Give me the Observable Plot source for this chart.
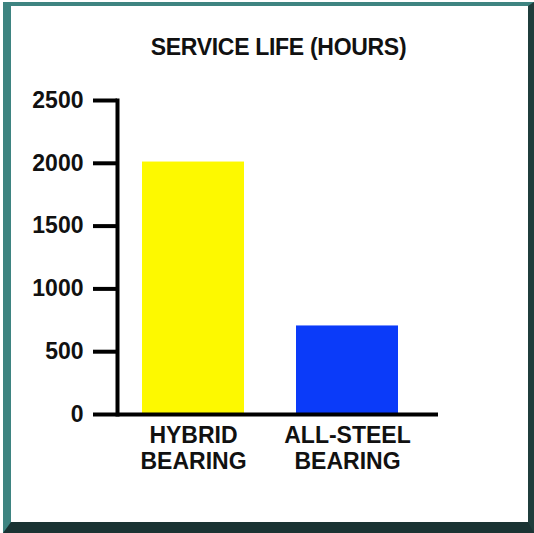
<!DOCTYPE html>
<html>
<head>
<meta charset="utf-8">
<script src="https://cdn.jsdelivr.net/npm/d3@7"></script>
<script src="https://cdn.jsdelivr.net/npm/@observablehq/plot@0.6"></script>
<style>
  html, body { margin: 0; padding: 0; background: #ffffff; }
  #page { position: relative; width: 534px; height: 533px; overflow: hidden; }
  #frame {
    position: absolute; left: 3px; top: 2px;
    width: 517px; height: 516px;
    background: #ffffff;
    border-left: 8px solid #3e8481;
    border-top: 4px solid #3e8481;
    border-right: 6px solid #1f3d3c;
    border-bottom: 11px solid #1a3333;
  }
  #title {
    position: absolute; left: 0; width: 557px; top: 34px;
    text-align: center;
    font-family: "Liberation Sans", Arial, sans-serif;
    font-weight: bold; font-size: 23px; color: #111;
    letter-spacing: -0.3px;
  }
  #chart { position: absolute; left: 0; top: 0; width: 534px; }
</style>
</head>
<body>
<div id="page">
  <div id="frame"></div>
  <div id="title">SERVICE LIFE (HOURS)</div>
  <div id="chart"></div>
</div>
<script>
const categories = ["HYBRID\nBEARING", "ALL-STEEL\nBEARING"];
const hours = [2010, 705];
const barColors = ["#fdf900", "#0b3bf9"];
const yTicks = [0, 500, 1000, 1500, 2000, 2500];

const data = categories.map((c, i) => ({category: c, hours: hours[i], color: barColors[i]}));

const chart = Plot.plot({
  width: 534,
  height: 533,
  marginLeft: 117,
  marginRight: 96,
  marginTop: 100,
  marginBottom: 119,
  style: {background: "transparent", fontFamily: "'Liberation Sans', Arial, sans-serif", fontWeight: "bold", fontSize: "23px", color: "#111"},
  x: {domain: categories, paddingInner: 0.34, paddingOuter: 0.21, align: 0.39, axis: null},
  y: {domain: [0, 2500], axis: null},
  marks: [
    Plot.barY(data, {x: "category", y: "hours", fill: "color"}),
    Plot.axisY({ticks: yTicks, tickSize: 24, tickPadding: 10, strokeWidth: 4, stroke: "#000", fontSize: 23, fontWeight: "bold", label: null, tickFormat: d => String(d)}),
    Plot.axisX({tickSize: 0, tickPadding: 11, fontSize: 23, fontWeight: "bold", lineHeight: 1.1, label: null}),
    Plot.frame({anchor: "left", stroke: "#000", strokeWidth: 4}),
    Plot.ruleY([0], {stroke: "#000", strokeWidth: 4})
  ]
});
document.getElementById("chart").appendChild(chart);
</script>
</body>
</html>
